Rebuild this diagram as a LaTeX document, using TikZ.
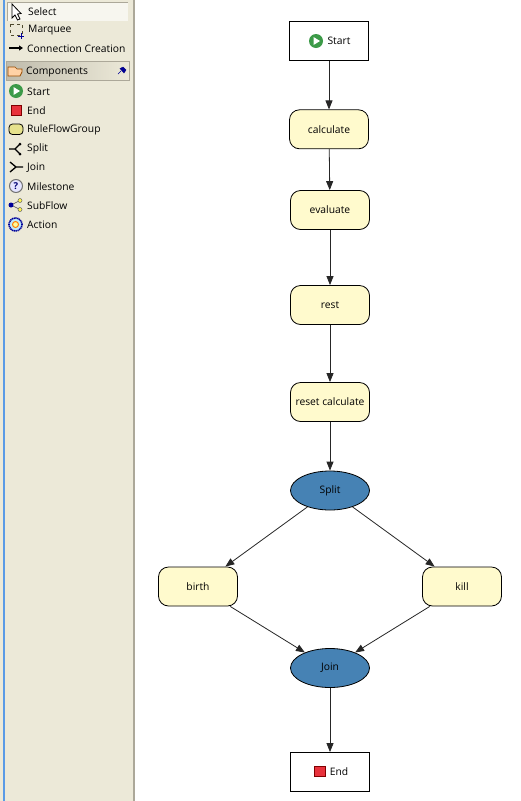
\documentclass[tikz,border=0pt]{standalone}
\usepackage{fontspec}
\setmainfont{Open Sans}
\usetikzlibrary{arrows.meta,positioning,shapes.geometric,calc}
\definecolor{panel}{HTML}{ECE9D8}
\definecolor{rail}{HTML}{5A9BE6}
\definecolor{edge}{HTML}{ACA899}
\definecolor{rulefill}{HTML}{FFFACD}
\definecolor{ovalfill}{HTML}{4682B4}
\definecolor{iconyellow}{HTML}{E6E28C}
\definecolor{icongreen}{HTML}{3C9A48}
\definecolor{iconred}{HTML}{E8323C}
\tikzset{
  every node/.style={font=\fontsize{10.3}{12}\selectfont,text=black},
  base/.style={draw=black,line width=0.8pt,minimum width=79pt,minimum height=39pt,inner sep=0pt,align=center},
  plain/.style={base,fill=white},
  rule/.style={base,fill=rulefill,rounded corners=10pt},
  gate/.style={base,ellipse,fill=ovalfill},
  flow/.style={-{Triangle[length=9pt,width=7pt]},line width=0.8pt,draw=black!85},
  item/.style={anchor=west,inner sep=0pt},
  icon/.style={line width=1.3pt,draw=black}
}
\begin{document}
\begin{tikzpicture}[x=1pt,y=-1pt]
\useasboundingbox (0,0) rectangle (520,801);
\fill[white] (0,0) rectangle (520,801);
% palette
\fill[panel] (0,0) rectangle (133,801);
\fill[rail] (3,0) rectangle (5,801);
\fill[edge] (133,0) rectangle (134.5,801);
\fill[white!60!panel] (7,2) rectangle (128,20.5);
\draw[edge] (7,2) -- (128,2);
\draw[edge] (7,20.5) -- (7,2);
\shade[left color=edge!70!panel,right color=panel] (6,61) rectangle (129,80);
\draw[edge] (6,61) rectangle (129,80);
\node[item] (select) at (28,11.8) {Select};
\node[item] (marquee) at (28,30) {Marquee};
\node[item] (connection) at (27,48.8) {Connection Creation};
\node[item] (components) at (26,71.8) {Components};
\node[item] (startitem) at (27,91.8) {Start};
\node[item] (enditem) at (27,110.8) {End};
\node[item] (ruleitem) at (27,129.8) {RuleFlowGroup};
\node[item] (splititem) at (27,148.8) {Split};
\node[item] (joinitem) at (27,167.8) {Join};
\node[item] (mileitem) at (27,186.8) {Milestone};
\node[item] (subitem) at (27,205.8) {SubFlow};
\node[item] (actionitem) at (27,224.8) {Action};
% palette icons
\draw[fill=white,line width=0.8pt] (12,4) -- (12,18) -- (15,15) -- (17.5,20) -- (20,19) -- (17.5,14) -- (21,13.5) -- cycle;
\draw[dashed,draw=black!60!olive,line width=0.8pt] (10,24) rectangle (22,35);
\draw[draw=blue!60!black,line width=0.8pt] (18,36) -- (24,36) (21,33) -- (21,39);
\draw[-{Triangle[length=4pt,width=5pt]},line width=1.3pt] (9,48) -- (23,48);
\draw[fill=orange!35,draw=orange!60!black,line width=0.7pt] (8,76) -- (8,67) -- (15,67) -- (17,69) -- (22,69) -- (22,72) -- (20,76) -- cycle;
\draw[draw=blue!60!black,line width=0.7pt] (118,74) -- (121,71);
\draw[fill=blue!60!black,draw=blue!50!black] (120,68.5) -- (123,67) -- (126,70) -- (124,73) -- cycle;
\fill[icongreen] (16,91) circle (7pt);
\fill[white] (13.5,87) -- (20,91) -- (13.5,95) -- cycle;
\draw[draw=red!50!black,fill=iconred,line width=0.6pt] (11,105) rectangle (21,115);
\draw[draw=black,fill=iconyellow,rounded corners=3.5pt,line width=0.8pt] (9,124) rectangle (23,134.5);
\draw[icon] (9,149) -- (15,149) -- (20,144) (15,149) -- (20,154);
\fill (20,144) circle (1.5pt) (20,154) circle (1.5pt);
\draw[icon] (10,162) -- (16,167) -- (10,172) (16,167) -- (23,167);
\draw[draw=black!55,fill=blue!10,line width=1pt] (16,186) circle (6.5pt);
\node[inner sep=0pt,text=blue!45!black] (mark) at (16,186) {\fontsize{9.5}{9.5}\selectfont\bfseries ?};
\draw[line width=0.6pt,draw=black!70] (11,205) -- (20,200.5) (11,205) -- (20,209.5);
\fill[blue!60!black] (11,205) circle (2.5pt);
\draw[fill=yellow!70,draw=black!60,line width=0.5pt] (20,200.5) circle (2pt) (20,209.5) circle (2pt);
\draw[draw=blue!60!black,fill=cyan!25,line width=1.6pt,dash pattern=on 1.2pt off 0.6pt] (15.5,224.5) circle (6.5pt);
\draw[draw=orange,fill=yellow!40,line width=1pt] (15.5,224.5) circle (3pt);
% process
\node[plain] (start) at (329,41) {\hspace{20pt}Start};
\node[rule,below=48.5pt of start] (calculate) {calculate};
\node[rule,below=40.9pt of calculate,xshift=1pt] (evaluate) {evaluate};
\node[rule,below=55.2pt of evaluate] (rest) {rest};
\node[rule,below=57.2pt of rest] (reset) {reset calculate};
\node[gate,below=48.7pt of reset] (split) {Split};
\node[rule,below=56.2pt of split,xshift=-132pt] (birth) {birth};
\node[rule,below=56.2pt of split,xshift=132pt] (kill) {kill};
\node[gate,below=137.7pt of split] (join) {Join};
\node[plain,below=64.2pt of join] (stop) {\hspace{18pt}End};
\fill[icongreen] (316,41) circle (7pt);
\fill[white] (313.5,37) -- (320,41) -- (313.5,45) -- cycle;
\draw[draw=red!50!black,fill=iconred,line width=0.6pt] (314.5,766) rectangle (325,776.5);
\draw[flow] (start) -- (calculate);
\draw[flow] (calculate) -- (evaluate);
\draw[flow] (evaluate) -- (rest);
\draw[flow] (rest) -- (reset);
\draw[flow] (reset) -- (split);
\draw[flow] (split) -- (birth);
\draw[flow] (split) -- (kill);
\draw[flow] (birth) -- (join);
\draw[flow] (kill) -- (join);
\draw[flow] (join) -- (stop);
\end{tikzpicture}
\end{document}
